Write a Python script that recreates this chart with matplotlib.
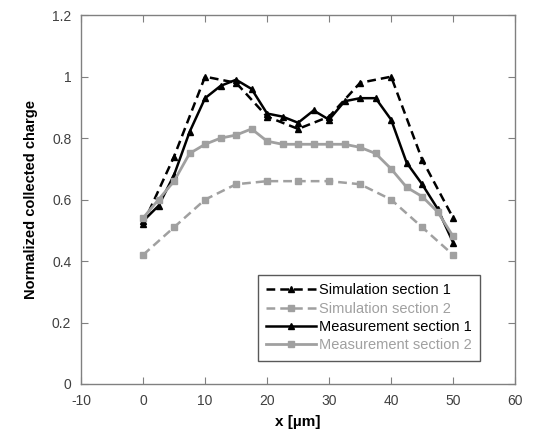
import matplotlib
matplotlib.use('Agg')
import matplotlib.pyplot as plt
import numpy as np

plt.rcParams['font.family'] = ['Liberation Sans', 'DejaVu Sans']
plt.rcParams['axes.unicode_minus'] = False

# simulation, every 5 um
x_sim = [0, 5, 10, 15, 20, 25, 30, 35, 40, 45, 50]
sim1 = [0.52, 0.74, 1.00, 0.98, 0.87, 0.83, 0.87, 0.98, 1.00, 0.73, 0.54]
sim2 = [0.42, 0.51, 0.60, 0.65, 0.66, 0.66, 0.66, 0.65, 0.60, 0.51, 0.42]

# measurement, every 2.5 um
x_meas = [0, 2.5, 5, 7.5, 10, 12.5, 15, 17.5, 20, 22.5, 25, 27.5, 30,
          32.5, 35, 37.5, 40, 42.5, 45, 47.5, 50]
meas1 = [0.53, 0.58, 0.68, 0.82, 0.93, 0.97, 0.99, 0.96, 0.88, 0.87, 0.85,
         0.89, 0.86, 0.92, 0.93, 0.93, 0.86, 0.72, 0.65, 0.57, 0.46]
meas2 = [0.54, 0.60, 0.66, 0.75, 0.78, 0.80, 0.81, 0.83, 0.79, 0.78, 0.78,
         0.78, 0.78, 0.78, 0.77, 0.75, 0.70, 0.64, 0.61, 0.56, 0.48]

gray = '#a0a0a0'

fig = plt.figure(figsize=(5.38, 4.38), dpi=100)
ax = fig.add_axes([0.1506, 0.1233, 0.807, 0.842])

ax.plot(x_sim, sim1, color='black', linestyle=(0, (3.5, 2)), linewidth=1.8,
        marker='^', markersize=5, label='Simulation section 1')
ax.plot(x_sim, sim2, color=gray, linestyle=(0, (3.5, 2)), linewidth=1.8,
        marker='s', markersize=5, label='Simulation section 2')
ax.plot(x_meas, meas1, color='black', linewidth=1.8,
        marker='^', markersize=5, label='Measurement section 1')
ax.plot(x_meas, meas2, color=gray, linewidth=2.0,
        marker='s', markersize=5, label='Measurement section 2')

ax.set_xlim(-10, 60)
ax.set_ylim(0, 1.2)
ax.set_xticks(np.arange(-10, 61, 10))
ax.set_yticks(np.arange(0, 1.21, 0.2))
ax.set_yticklabels(['0', '0.2', '0.4', '0.6', '0.8', '1', '1.2'])

for s in ax.spines.values():
    s.set_color('#808080')
    s.set_linewidth(1.0)
ax.tick_params(direction='in', top=True, right=True, length=5,
               color='#808080', labelcolor='#404040', labelsize=10, pad=7)

ax.set_xlabel('x [µm]', fontsize=11, fontweight='bold', labelpad=5)
ax.set_ylabel('Normalized collected charge', fontsize=10.5, fontweight='bold', labelpad=10)

leg = ax.legend(loc='lower right', bbox_to_anchor=(0.92, 0.062), fontsize=10.5,
                frameon=True, fancybox=False, handlelength=3.4,
                handletextpad=0.2, borderpad=0.6, labelspacing=0.3,
                borderaxespad=0)
leg.get_frame().set_edgecolor('#303030')
leg.get_frame().set_linewidth(1.0)
for t, c in zip(leg.get_texts(), ['black', gray, 'black', gray]):
    t.set_color(c)

fig.savefig('out.png', dpi=100)
